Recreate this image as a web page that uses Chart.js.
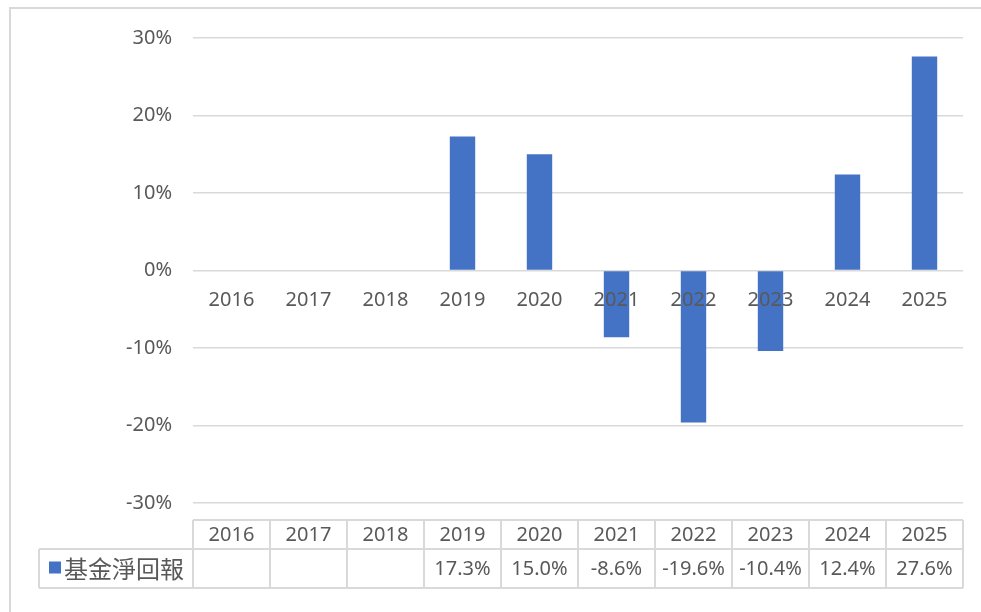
<!DOCTYPE html>
<html>
<head>
<meta charset="utf-8">
<title>基金淨回報</title>
<script src="https://cdn.jsdelivr.net/npm/chart.js@4"></script>
<style>
  html, body { margin: 0; padding: 0; background: #fff; }
  #wrap { position: relative; width: 981px; height: 612px; }
</style>
</head>
<body>
<div id="wrap"><canvas id="returnChart"></canvas></div>
<script>
// chart data
const years = ['2016', '2017', '2018', '2019', '2020', '2021', '2022', '2023', '2024', '2025'];
const fundReturns = [null, null, null, 17.3, 15.0, -8.6, -19.6, -10.4, 12.4, 27.6];
const seriesName = '基金淨回報';
const yMin = -30;
const yMax = 30;
const yStep = 10;

const textColor = '#595959';
const lineColor = '#d9d9d9';
const barColor = '#4472C4';
const latinFont = '"Noto Sans", "DejaVu Sans", sans-serif';
const cjkFont = '"Noto Sans CJK TC", "Noto Sans CJK SC", sans-serif';

const fmtPct = (v) => (v === null ? '' : v.toFixed(1) + '%');

// Draws the outer frame and the Excel-like data table under the plot
const dataTablePlugin = {
  id: 'dataTable',
  afterDraw(chart) {
    const ctx = chart.ctx;
    const xs = chart.scales.x;
    const area = chart.chartArea;
    const colW = (area.right - area.left) / years.length;
    const headTop = area.bottom + 17;
    const rowMid = area.bottom + 46;
    const rowBottom = area.bottom + 85;
    const legendLeft = 39;

    ctx.save();
    ctx.strokeStyle = lineColor;
    ctx.lineWidth = 2;

    // frame (left + top edges visible)
    ctx.beginPath();
    ctx.moveTo(10, chart.height);
    ctx.lineTo(10, 8);
    ctx.lineTo(chart.width, 8);
    ctx.stroke();

    // table grid
    ctx.beginPath();
    ctx.moveTo(area.left, headTop);
    ctx.lineTo(area.right, headTop);
    ctx.moveTo(legendLeft, rowMid);
    ctx.lineTo(area.right, rowMid);
    ctx.moveTo(legendLeft, rowBottom);
    ctx.lineTo(area.right, rowBottom);
    ctx.moveTo(legendLeft, rowMid);
    ctx.lineTo(legendLeft, rowBottom);
    for (let i = 0; i <= years.length; i++) {
      const x = area.left + i * colW;
      ctx.moveTo(x, headTop);
      ctx.lineTo(x, rowBottom);
    }
    ctx.stroke();

    // header years and values
    ctx.fillStyle = textColor;
    ctx.textAlign = 'center';
    ctx.textBaseline = 'middle';
    ctx.font = '20px ' + latinFont;
    years.forEach((yr, i) => {
      const cx = xs.getPixelForValue(i);
      ctx.fillText(yr, cx, (headTop + rowMid) / 2 + 1);
      ctx.fillText(fmtPct(fundReturns[i]), cx, (rowMid + rowBottom) / 2 + 1);
    });

    // legend key + series name
    const midY = (rowMid + rowBottom) / 2;
    ctx.fillStyle = barColor;
    ctx.fillRect(49, midY - 7, 12, 12);
    ctx.fillStyle = textColor;
    ctx.textAlign = 'left';
    ctx.font = '24px ' + cjkFont;
    ctx.fillText(seriesName, 64, midY);
    ctx.restore();
  }
};

const canvas = document.getElementById('returnChart');
new Chart(canvas, {
  type: 'bar',
  data: {
    labels: years,
    datasets: [{
      label: seriesName,
      data: fundReturns,
      backgroundColor: barColor,
      borderWidth: 0,
      categoryPercentage: 1,
      barPercentage: 0.33
    }]
  },
  options: {
    responsive: true,
    maintainAspectRatio: false,
    animation: false,
    layout: { padding: { left: 10, right: 18, top: 38, bottom: 109 } },
    plugins: {
      legend: { display: false },
      tooltip: { enabled: false }
    },
    scales: {
      x: {
        type: 'category',
        position: { y: 0 },
        grid: { display: false, drawTicks: false },
        border: { display: false },
        ticks: {
          z: 1,
          color: textColor,
          font: { family: latinFont, size: 20 },
          padding: 18,
          maxRotation: 0,
          autoSkip: false
        }
      },
      y: {
        min: yMin,
        max: yMax,
        afterFit: (scale) => { scale.width = 183; },
        grid: { color: lineColor, lineWidth: 1.5, drawTicks: false },
        border: { display: false },
        ticks: {
          stepSize: yStep,
          color: textColor,
          font: { family: latinFont, size: 20 },
          padding: 21,
          callback: (v) => v + '%'
        }
      }
    }
  },
  plugins: [dataTablePlugin]
});
</script>
</body>
</html>
